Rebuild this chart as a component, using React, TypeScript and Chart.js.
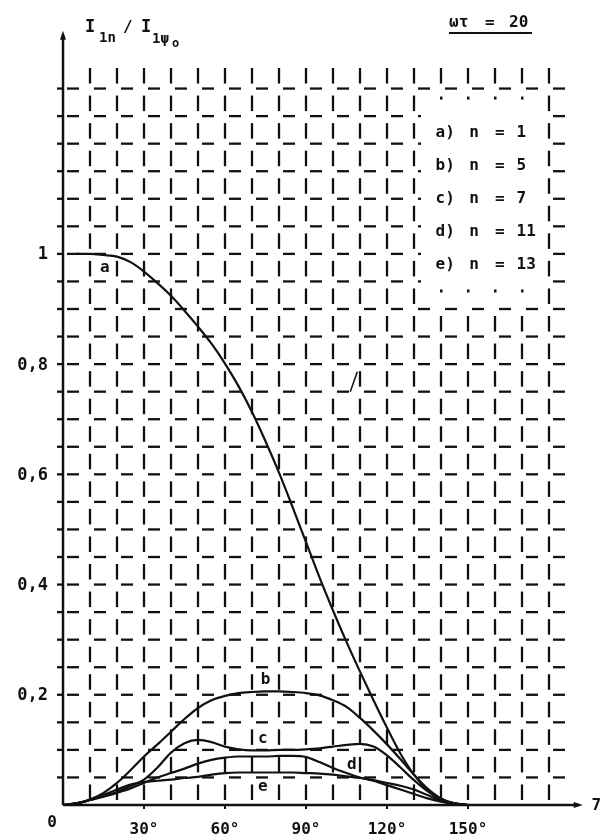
import React, { useEffect, useRef } from "react";
import { Chart, registerables } from "chart.js";

Chart.register(...registerables);

// ---- data (angle in degrees, ratio I1n / I1ψo) ----
const anglesA = [5, 10, 15, 20, 25, 30, 35, 40, 45, 50, 55, 60, 65, 70, 75, 80, 85, 90, 95, 100, 105, 110, 115, 120, 125, 130, 135, 140, 145, 150];
const ratioA = [1.0, 1.0, 0.998, 0.995, 0.985, 0.968, 0.947, 0.924, 0.897, 0.868, 0.837, 0.801, 0.76, 0.713, 0.66, 0.603, 0.541, 0.477, 0.413, 0.353, 0.296, 0.242, 0.19, 0.14, 0.093, 0.055, 0.027, 0.01, 0.003, 0];

const anglesB = [0, 5, 10, 15, 20, 25, 30, 35, 40, 45, 50, 55, 60, 65, 70, 75, 80, 85, 90, 95, 100, 105, 110, 115, 120, 125, 130, 135, 140, 145, 150];
const ratioB = [0, 0.003, 0.01, 0.022, 0.04, 0.063, 0.088, 0.11, 0.133, 0.156, 0.176, 0.19, 0.198, 0.203, 0.205, 0.206, 0.206, 0.205, 0.203, 0.199, 0.19, 0.178, 0.158, 0.135, 0.11, 0.083, 0.055, 0.03, 0.012, 0.003, 0];

const anglesC = [0, 5, 10, 15, 20, 25, 30, 35, 40, 45, 50, 55, 60, 65, 70, 75, 80, 85, 90, 95, 100, 105, 110, 115, 120, 125, 130, 135, 140, 145, 150];
const ratioC = [0, 0.003, 0.009, 0.016, 0.024, 0.034, 0.046, 0.068, 0.095, 0.112, 0.118, 0.114, 0.106, 0.101, 0.099, 0.099, 0.1, 0.1, 0.101, 0.103, 0.106, 0.109, 0.111, 0.106, 0.09, 0.068, 0.045, 0.025, 0.01, 0.003, 0];

const anglesD = [0, 5, 10, 15, 20, 25, 30, 35, 40, 45, 50, 55, 60, 65, 70, 75, 80, 85, 90, 95, 100, 105, 110, 115, 120, 125, 130, 135, 140, 145, 150];
const ratioD = [0, 0.003, 0.009, 0.015, 0.022, 0.03, 0.04, 0.05, 0.058, 0.066, 0.075, 0.082, 0.086, 0.088, 0.088, 0.088, 0.089, 0.089, 0.087, 0.078, 0.067, 0.058, 0.05, 0.044, 0.036, 0.028, 0.02, 0.012, 0.006, 0.002, 0];

const anglesE = [0, 5, 10, 15, 20, 25, 30, 35, 40, 45, 50, 55, 60, 65, 70, 75, 80, 85, 90, 95, 100, 105, 110, 115, 120, 125, 130, 135, 140, 145, 150];
const ratioE = [0, 0.003, 0.009, 0.018, 0.028, 0.037, 0.042, 0.044, 0.046, 0.049, 0.051, 0.055, 0.058, 0.059, 0.059, 0.059, 0.059, 0.059, 0.058, 0.057, 0.055, 0.052, 0.049, 0.045, 0.04, 0.035, 0.028, 0.018, 0.008, 0.002, 0];

const curveLetters = ["a", "b", "c", "d", "e"];
const legendKeys = ["a)", "b)", "c)", "d)", "e)"];
const harmonicOrders = ["1", "5", "7", "11", "13"];

const xTickValues = [30, 60, 90, 120, 150];
const xTickLabels = ["30°", "60°", "90°", "120°", "150°"];
const yTickValues = [0.2, 0.4, 0.6, 0.8, 1];
const yTickLabels = ["0,2", "0,4", "0,6", "0,8", "1"];

// ---- layout / style constants ----
const X_MAX = 190;
const Y_MAX = 1.35;
const GRID_DX = 10;
const GRID_DY = 0.05;
const INK = "#111";
const FONT = "'DejaVu Sans Mono', 'Liberation Mono', monospace";

// positions of curve letters (angle, ratio)
const letterPos = [
  [15.5, 0.975],
  [75, 0.227],
  [74, 0.12],
  [107, 0.073],
  [74, 0.033],
];

const paperPlugin = {
  id: "paper",
  beforeDatasetsDraw(chart: any) {
    const { ctx } = chart;
    const xs = chart.scales.x;
    const ys = chart.scales.y;
    const px = (v: number) => xs.getPixelForValue(v);
    const py = (v: number) => ys.getPixelForValue(v);
    const seg = (x1: number, y1: number, x2: number, y2: number) => {
      ctx.beginPath();
      ctx.moveTo(x1, y1);
      ctx.lineTo(x2, y2);
      ctx.stroke();
    };
    ctx.save();
    ctx.strokeStyle = INK;
    ctx.fillStyle = INK;
    ctx.lineCap = "butt";
    ctx.lineWidth = 2.3;

    const nCols = Math.round(180 / GRID_DX);
    const nRows = Math.round(Y_MAX / GRID_DY);
    // vertical dashes
    for (let k = 1; k <= nCols; k++) {
      const xx = px(k * GRID_DX);
      for (let j = 0; j < nRows; j++) {
        const top = py((j + 1) * GRID_DY);
        const bot = py(j * GRID_DY);
        const boxCol = k >= 14 && k <= 17;
        if (boxCol && j >= 19 && j <= 24) continue;
        if (boxCol && (j === 18 || j === 25)) {
          ctx.fillRect(xx - 1, top + 8, 2.5, 3);
          continue;
        }
        seg(xx, top + 7, xx, bot - 5);
      }
    }
    // horizontal dashes
    for (let j = 1; j < nRows; j++) {
      const yy = py(j * GRID_DY);
      for (let k = 0; k <= nCols; k++) {
        const x0 = px(k * GRID_DX);
        if (j >= 19 && j <= 25 && k >= 13 && k <= 17) {
          if (k === 13) seg(x0 + 4, yy, x0 + 7, yy);
          continue;
        }
        seg(x0 + 4, yy, x0 + 16, yy);
      }
      seg(px(0) - 6, yy, px(0), yy);
    }

    // axes
    ctx.lineWidth = 2.5;
    const ox = px(0);
    const oy = py(0);
    const yTop = py(1.405);
    const xEnd = px(192.5);
    seg(ox, oy, ox, yTop + 4);
    seg(ox, oy, xEnd - 4, oy);
    ctx.beginPath();
    ctx.moveTo(ox, yTop);
    ctx.lineTo(ox - 3, yTop + 9);
    ctx.lineTo(ox + 3, yTop + 9);
    ctx.closePath();
    ctx.fill();
    ctx.beginPath();
    ctx.moveTo(xEnd, oy);
    ctx.lineTo(xEnd - 9, oy - 3);
    ctx.lineTo(xEnd - 9, oy + 3);
    ctx.closePath();
    ctx.fill();

    // x ticks
    ctx.lineWidth = 2;
    xTickValues.forEach((v) => seg(px(v), oy, px(v), oy + 4));

    // tick labels
    ctx.font = `bold 16px ${FONT}`;
    ctx.textAlign = "center";
    ctx.textBaseline = "middle";
    xTickValues.forEach((v, i) => ctx.fillText(xTickLabels[i], px(v), oy + 25));
    ctx.fillText("0", ox - 11, oy + 18);
    ctx.fillText("7", px(197.5), oy + 1);

    ctx.font = `bold 17px ${FONT}`;
    ctx.textAlign = "right";
    yTickValues.forEach((v, i) => ctx.fillText(yTickLabels[i], ox - 15, py(v) + 1));

    // axis title  I1n / I1ψo
    ctx.textAlign = "left";
    ctx.textBaseline = "alphabetic";
    ctx.font = `bold 17px ${FONT}`;
    ctx.fillText("I", ox + 22, 32);
    ctx.font = `bold 14px ${FONT}`;
    ctx.fillText("1n", ox + 36, 42);
    ctx.font = `bold 16px ${FONT}`;
    ctx.fillText("/", ox + 60, 32);
    ctx.font = `bold 17px ${FONT}`;
    ctx.fillText("I", ox + 78, 32);
    ctx.font = `bold 14px ${FONT}`;
    ctx.fillText("1\u03c8", ox + 89, 43);
    ctx.font = `bold 12px ${FONT}`;
    ctx.fillText("o", ox + 109, 47);

    // ωτ = 20
    ctx.font = `bold 16px ${FONT}`;
    ctx.fillText("\u03c9\u03c4", 449, 27);
    ctx.fillText("=", 485, 27);
    ctx.fillText("20", 509, 27);
    ctx.lineWidth = 2;
    seg(449, 33, 532, 33);

    // legend in the cleared box
    ctx.textBaseline = "middle";
    const boxTop = py(1.25);
    const boxBot = py(0.95);
    const rowH = (boxBot - boxTop) / legendKeys.length;
    legendKeys.forEach((key, i) => {
      const yy = boxTop + rowH * (i + 0.5);
      ctx.font = `bold 16px ${FONT}`;
      ctx.fillText(key, px(138), yy);
      ctx.fillText("n", px(150.5), yy);
      ctx.fillText("=", px(160), yy);
      ctx.fillText(harmonicOrders[i], px(168), yy);
    });

    // small stroke mark near 107°
    ctx.lineWidth = 1.5;
    seg(px(106.4), py(0.75), px(109), py(0.786));
    ctx.restore();
  },
  afterDatasetsDraw(chart: any) {
    const { ctx } = chart;
    const xs = chart.scales.x;
    const ys = chart.scales.y;
    ctx.save();
    ctx.fillStyle = INK;
    ctx.font = `bold 16px ${FONT}`;
    ctx.textAlign = "center";
    ctx.textBaseline = "middle";
    curveLetters.forEach((c, i) => {
      ctx.fillText(c, xs.getPixelForValue(letterPos[i][0]), ys.getPixelForValue(letterPos[i][1]));
    });
    ctx.restore();
  },
};

function series(angles: number[], values: number[]) {
  return angles.map((a, i) => ({ x: a, y: values[i] }));
}

export default function App() {
  const ref = useRef<HTMLCanvasElement | null>(null);
  useEffect(() => {
    if (!ref.current) return;
    const mk = (label: string, a: number[], v: number[]) => ({
      label,
      data: series(a, v),
      borderColor: INK,
      borderWidth: 2.2,
      pointRadius: 0,
      fill: false,
      cubicInterpolationMode: "monotone" as const,
    });
    const chart = new Chart(ref.current, {
      type: "line",
      data: {
        datasets: [
          mk("a) n = 1", anglesA, ratioA),
          mk("b) n = 5", anglesB, ratioB),
          mk("c) n = 7", anglesC, ratioC),
          mk("d) n = 11", anglesD, ratioD),
          mk("e) n = 13", anglesE, ratioE),
        ],
      },
      options: {
        animation: false,
        responsive: false,
        maintainAspectRatio: false,
        devicePixelRatio: 1,
        layout: { padding: { left: 63, right: 27, top: 61, bottom: 34 } },
        plugins: { legend: { display: false }, tooltip: { enabled: false } },
        scales: {
          x: { type: "linear", min: 0, max: X_MAX, display: false },
          y: { type: "linear", min: 0, max: Y_MAX, display: false },
        },
      },
      plugins: [paperPlugin],
    });
    return () => chart.destroy();
  }, []);
  return (
    <div style={{ position: "fixed", left: 0, top: 0, width: 603, height: 839, background: "#fff" }}>
      <canvas ref={ref} width={603} height={839} style={{ display: "block" }} />
    </div>
  );
}
